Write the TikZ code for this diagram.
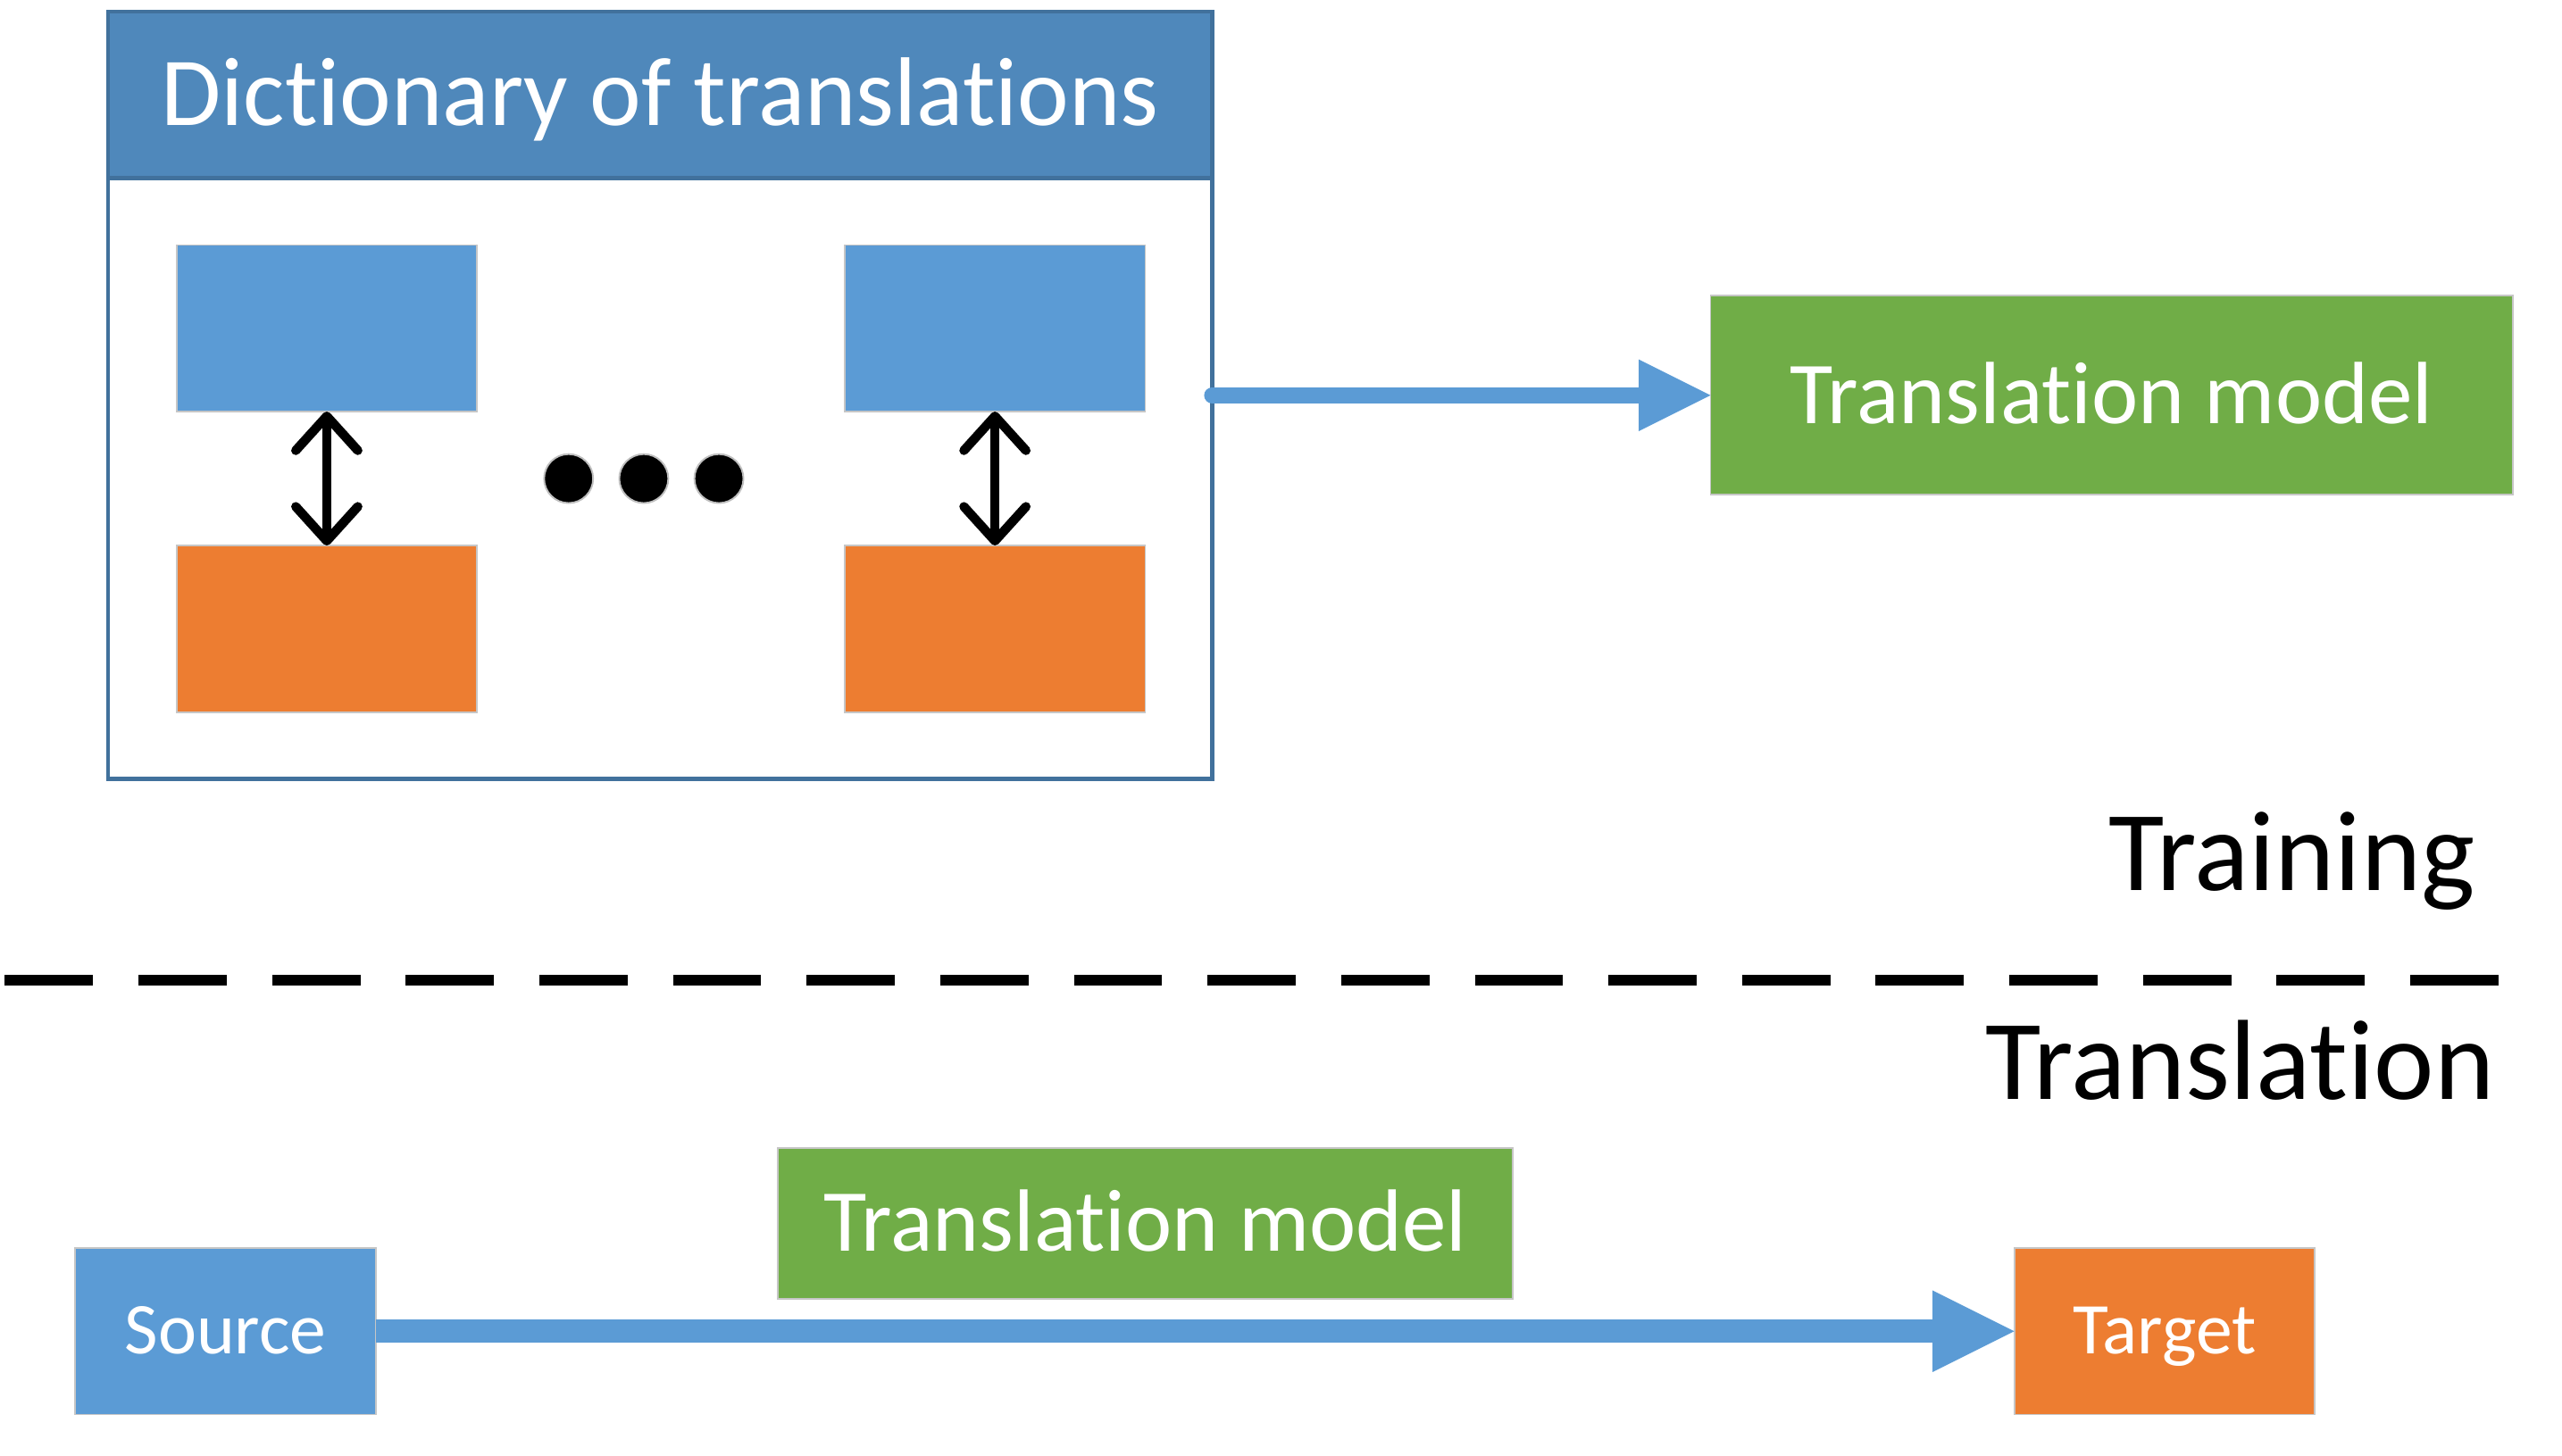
\documentclass[tikz,border=0pt]{standalone}
\usepackage{fontspec}
\setmainfont{Carlito}[RawFeature={-liga;-clig;-calt;-dlig}]
\usetikzlibrary{arrows.meta,positioning}
\definecolor{cblue}{HTML}{5B9BD5}
\definecolor{corange}{HTML}{ED7D31}
\definecolor{cgreen}{HTML}{70AD47}
\definecolor{chead}{HTML}{4F88BB}
\definecolor{cedge}{HTML}{41719C}
\begin{document}
\begin{tikzpicture}[x=0.02cm,y=-0.02cm,
  cell/.style={draw=gray!45,line width=0.6pt,inner sep=0pt,outer sep=0pt,minimum width=3.68cm,minimum height=2.04cm,text=white,font=\fontsize{25.4}{30}\selectfont,text height=16pt,text depth=0pt},
  model/.style={cell,fill=cgreen,font=\fontsize{30.8}{36}\selectfont,text height=19.5pt},
  flow/.style={cblue,-{Triangle[length=#1,width=#1,line width=0pt]}},
  pair/.style={line width=3.2pt,{Straight Barb[length=4.2mm,width=7.6mm,round]}-{Straight Barb[length=4.2mm,width=7.6mm,round]}},
  dot/.style={circle,fill=black,draw=gray!50,line width=0.6pt,minimum size=6mm,inner sep=0pt},
  phase/.style={font=\fontsize{39.7}{46}\selectfont,anchor=base east,inner sep=0pt}]
\useasboundingbox (0,0) rectangle (1568,891);
\node[draw=cedge,line width=1.4pt,minimum width=13.52cm,minimum height=9.4cm,inner sep=0pt,outer sep=0pt] (dict) at (404,242) {};
\node[draw=cedge,line width=1.4pt,fill=chead,inner sep=0pt,outer sep=0pt,minimum width=13.52cm,minimum height=2.04cm,anchor=north,text=white,font=\fontsize{34}{40}\selectfont,text height=21.5pt,text depth=0pt] (head) at (dict.north) {Dictionary of translations};
\node[cell,fill=cblue] (src1) at (200,201) {};
\node[cell,fill=corange,below=1.64cm of src1] (tgt1) {};
\node[cell,fill=cblue,right=4.5cm of src1] (src2) {};
\node[cell,fill=corange,below=1.64cm of src2] (tgt2) {};
\foreach \i/\x in {1/348,2/394,3/440} \node[dot] (d\i) at (\x,293) {};
\draw[pair] (src1) -- (tgt1);
\draw[pair] (src2) -- (tgt2);
\node[model,minimum width=9.82cm,minimum height=2.44cm,right=6.1cm of dict] (tm1) {Translation model};
\draw[flow=8.8mm,line width=2mm,line cap=round] (dict) -- (tm1);
\draw[line width=3.7pt,dash pattern=on 10.8mm off 5.56mm] (3,600) -- (1530,600);
\node[phase] (train) at (1515,545) {Training};
\node[phase] (transl) at (1527,673) {Translation};
\node[cell,fill=cblue] (src) at (138,815) {Source};
\node[cell,fill=corange,right=20.06cm of src] (tgt) {Target};
\node[model,minimum width=9cm,minimum height=1.84cm] (tm2) at (701,749) {Translation model};
\draw[flow=10mm,line width=2.8mm] (src) -- (tgt);
\end{tikzpicture}
\end{document}
